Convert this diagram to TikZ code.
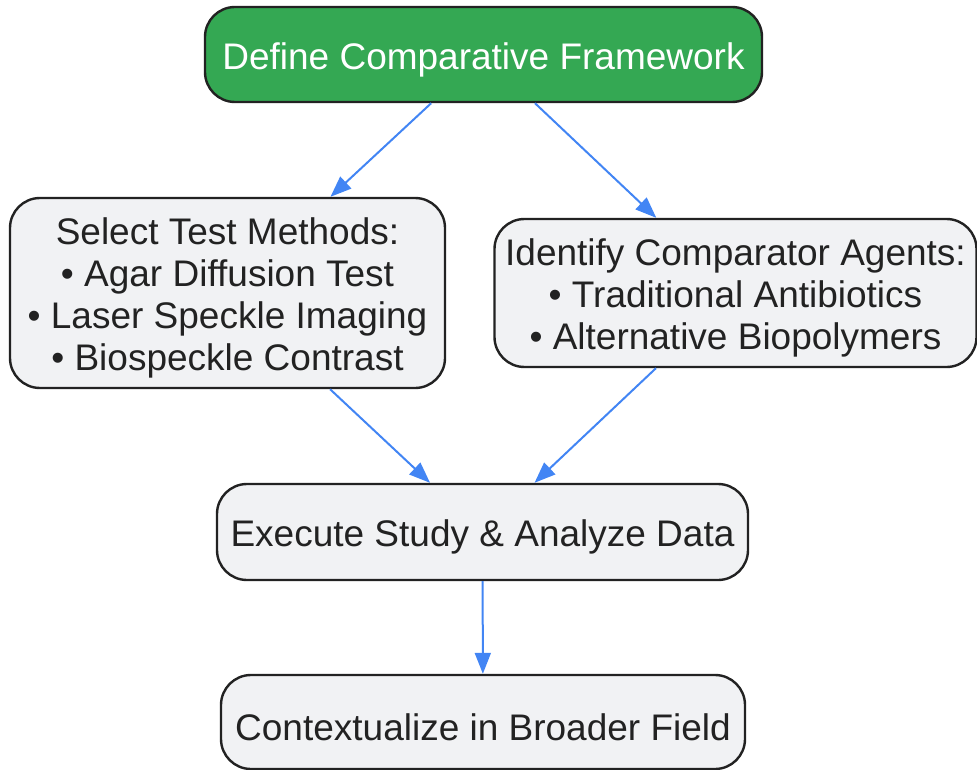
\documentclass[tikz,border=0pt]{standalone}
\usepackage{fontspec}
\setmainfont{Liberation Sans}
\usetikzlibrary{arrows.meta}
\definecolor{kgreen}{HTML}{34A853}
\definecolor{kbox}{HTML}{F1F2F4}
\definecolor{kline}{HTML}{222222}
\definecolor{kblue}{HTML}{4285F4}
\newcommand{\kup}{\rule{0pt}{37pt}}
\tikzset{
  stepbox/.style={draw=kline,line width=2.4pt,fill=kbox,rounded corners=30pt,align=center,text=kline,inner sep=0pt,font=\fontsize{37}{42}\selectfont},
  startbox/.style={stepbox,fill=kgreen,text=white},
  flow/.style={draw=kblue,line width=2pt,-{Triangle[length=21pt,width=16pt]}}
}
\begin{document}
\begin{tikzpicture}[x=1pt,y=-1pt]
\useasboundingbox (0,0) rectangle (977,770);
\node[startbox,minimum width=557pt,minimum height=95pt](frame) at (483.5,54.5){\kup Define Comparative Framework};
\node[stepbox,minimum width=435pt,minimum height=190pt](methods) at (227.5,293){\kup Select Test Methods:\\ • Agar Diffusion Test\\ • Laser Speckle Imaging\\ • Biospeckle Contrast};
\node[stepbox,minimum width=482pt,minimum height=148pt](agents) at (735.5,293){\kup Identify Comparator Agents:\\ • Traditional Antibiotics\\ • Alternative Biopolymers};
\node[stepbox,minimum width=531pt,minimum height=96pt](execute) at (482.5,532){\kup Execute Study \& Analyze Data};
\node[stepbox,minimum width=524pt,minimum height=94pt](context) at (483,722){\kup Contextualize in Broader Field};
\foreach \a/\b in {frame/methods,frame/agents,methods/execute,agents/execute,execute/context}{\draw[flow](\a)--(\b);}
\end{tikzpicture}
\end{document}
